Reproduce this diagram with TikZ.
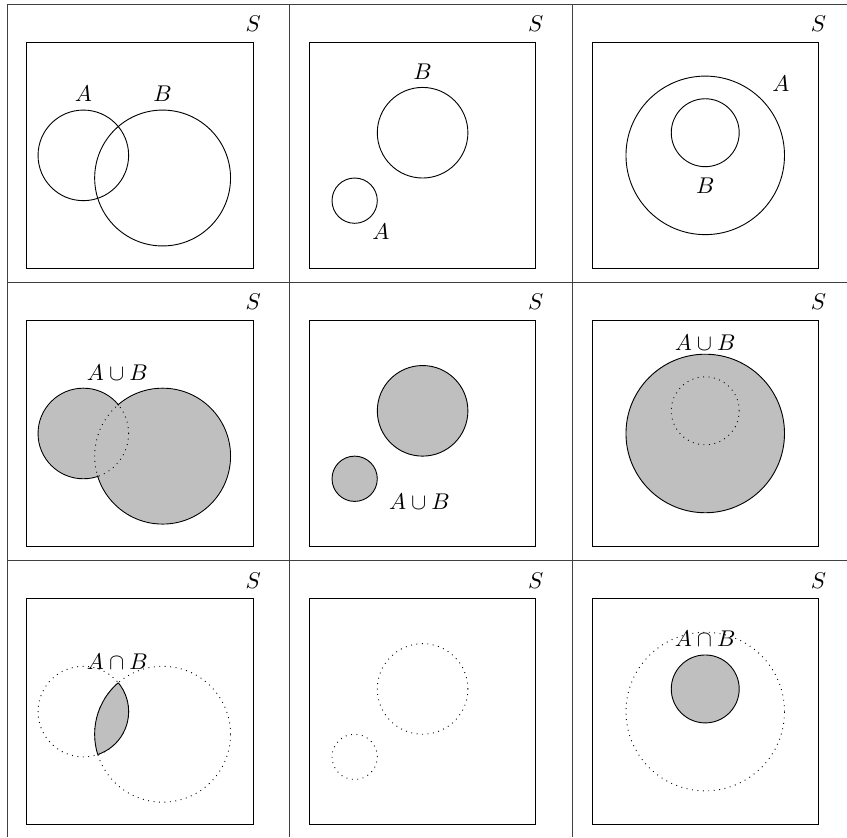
\documentclass[tikz,border=0pt]{standalone}
\begin{document}
\begin{tikzpicture}[x=0.7cm,y=0.7cm,
  rule/.style={black!75,line width=0.6pt},
  set/.style={fill=lightgray},
  hidden/.style={dotted}]
\useasboundingbox (0,0) rectangle (18.70,-18.48);
\draw[rule] (0.16,-18.48) -- (0.16,-0.10) -- (18.70,-0.10);
\draw[rule] (6.39,-0.10) -- (6.39,-18.48);
\draw[rule] (12.64,-0.10) -- (12.64,-18.48);
\draw[rule] (0.16,-6.24) -- (18.70,-6.24);
\draw[rule] (0.16,-12.38) -- (18.70,-12.38);

\begin{scope}[shift={(0.59,-5.93)}]
\draw (0,0) rectangle (5,5);
\node (S11) at (5,5.4){$S$};
\draw (1.25,2.5) circle (1);
\draw (3,2) circle (1.5);
\node (A11) at (1.25,3.85){$A$};
\node (B11) at (3,3.85){$B$};
\end{scope}

\begin{scope}[shift={(6.83,-5.93)}]
\draw (0,0) rectangle (5,5);
\node (S12) at (5,5.4){$S$};
\draw (1,1.5) circle (0.5);
\draw (2.5,3) circle (1);
\node (A12) at (1.58,0.82){$A$};
\node (B12) at (2.5,4.35){$B$};
\end{scope}

\begin{scope}[shift={(13.07,-5.93)}]
\draw (0,0) rectangle (5,5);
\node (S13) at (5,5.4){$S$};
\draw (2.5,2.5) circle (1.75);
\draw (2.5,3) circle (0.75);
\node (A13) at (4.17,4.09){$A$};
\node (B13) at (2.5,1.83){$B$};
\end{scope}

\begin{scope}[shift={(0.59,-12.07)}]
\draw (0,0) rectangle (5,5);
\node (S21) at (5,5.4){$S$};
\fill[set] (1.25,2.5) circle (1) (3,2) circle (1.5);
\draw (1.25,2.5) circle (1) (3,2) circle (1.5);
\fill[set] (1.25,2.5) circle (0.98) (3,2) circle (1.48);
\begin{scope}
\clip (3,2) circle (1.5);
\draw[hidden] (1.25,2.5) circle (1);
\end{scope}
\begin{scope}
\clip (1.25,2.5) circle (1);
\draw[hidden] (3,2) circle (1.5);
\end{scope}
\node (U21) at (2,3.85){$A\cup B$};
\end{scope}

\begin{scope}[shift={(6.83,-12.07)}]
\draw (0,0) rectangle (5,5);
\node (S22) at (5,5.4){$S$};
\filldraw[set] (1,1.5) circle (0.5);
\filldraw[set] (2.5,3) circle (1);
\node (U22) at (2.43,1.0){$A\cup B$};
\end{scope}

\begin{scope}[shift={(13.07,-12.07)}]
\draw (0,0) rectangle (5,5);
\node (S23) at (5,5.4){$S$};
\filldraw[set] (2.5,2.5) circle (1.75);
\draw[hidden] (2.5,3) circle (0.75);
\node (U23) at (2.5,4.5){$A\cup B$};
\end{scope}

\begin{scope}[shift={(0.59,-18.21)}]
\draw (0,0) rectangle (5,5);
\node (S31) at (5,5.4){$S$};
\draw[hidden] (1.25,2.5) circle (1);
\draw[hidden] (3,2) circle (1.5);
\begin{scope}
\clip (1.25,2.5) circle (1);
\fill[set] (3,2) circle (1.5);
\draw (3,2) circle (1.5);
\end{scope}
\begin{scope}
\clip (3,2) circle (1.5);
\draw (1.25,2.5) circle (1);
\end{scope}
\node (I31) at (2,3.6){$A\cap B$};
\end{scope}

\begin{scope}[shift={(6.83,-18.21)}]
\draw (0,0) rectangle (5,5);
\node (S32) at (5,5.4){$S$};
\draw[hidden] (1,1.5) circle (0.5);
\draw[hidden] (2.5,3) circle (1);
\end{scope}

\begin{scope}[shift={(13.07,-18.21)}]
\draw (0,0) rectangle (5,5);
\node (S33) at (5,5.4){$S$};
\draw[hidden] (2.5,2.5) circle (1.75);
\filldraw[set] (2.5,3) circle (0.75);
\node (I33) at (2.5,4.1){$A\cap B$};
\end{scope}
\end{tikzpicture}
\end{document}
